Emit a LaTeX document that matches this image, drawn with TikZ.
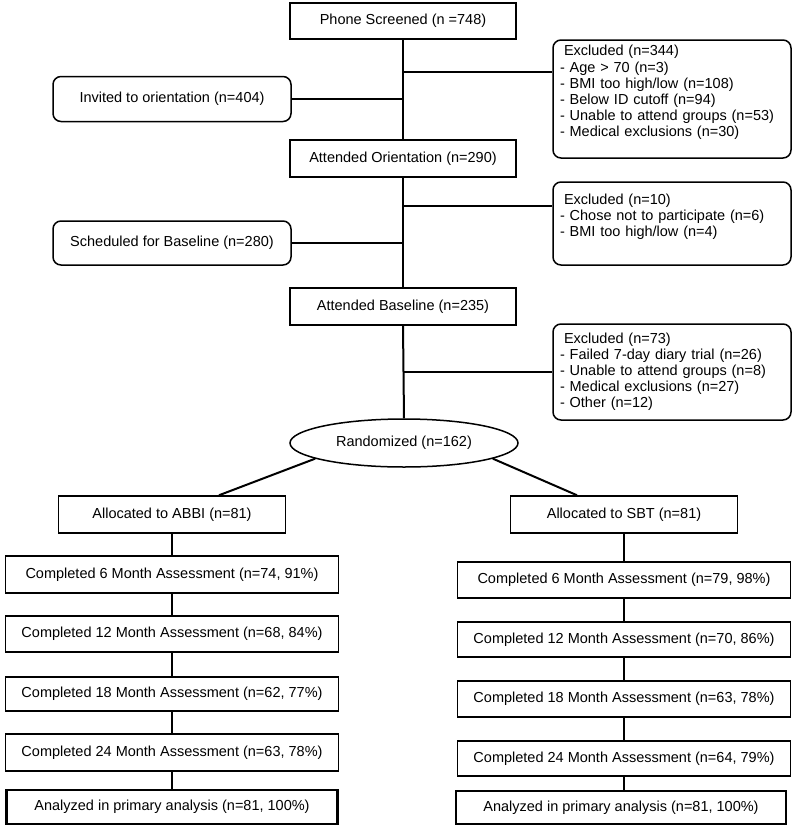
\documentclass[tikz,border=0pt]{standalone}
\usepackage{fontspec}
\setmainfont{Liberation Sans}
\usetikzlibrary{shapes.geometric}

\tikzset{
  caja/.style={draw, line width=1.5pt, inner sep=0pt, minimum height=37pt},
  cajared/.style={caja, rounded corners=8pt},
  excl/.style={cajared, text width=224pt, align=left, inner xsep=7pt, minimum width=238pt},
  final/.style={caja, line width=2.6pt},
  linea/.style={line width=2pt}
}

\begin{document}
\begin{tikzpicture}[x=1pt, y=-1pt, font=\fontsize{14.5}{16.1}\selectfont]
  \useasboundingbox (0,0) rectangle (800,828);

  % Tronco central
  \node[caja, minimum width=226pt, minimum height=36pt] (phone) at (403,21) {Phone Screened (n =748)};
  \node[caja, minimum width=226pt] (ator) at (403,158.5) {Attended Orientation (n=290)};
  \node[caja, minimum width=226pt] (abase) at (403,306.5) {Attended Baseline (n=235)};
  \node[ellipse, draw, line width=1.5pt, minimum width=228pt, minimum height=48pt, inner sep=0pt] (rnd) at (404,443) {Randomized (n=162)};

  % Cajas de la izquierda
  \node[cajared, minimum width=238pt, minimum height=45pt] (inv) at (172,99) {Invited to orientation (n=404)};
  \node[cajared, minimum width=238pt, minimum height=44pt] (sched) at (172,243) {Scheduled for Baseline (n=280)};

  % Exclusiones
  \node[excl, minimum height=118pt] (ex1) at (672,99) {\hspace*{4pt}Excluded (n=344)\\
    - Age > 70 (n=3)\\
    - BMI too high/low (n=108)\\
    - Below ID cutoff (n=94)\\
    - Unable to attend groups (n=53)\\
    - Medical exclusions (n=30)\\ \mbox{}};
  \node[excl, minimum height=83pt] (ex2) at (672,223.5) {\hspace*{4pt}Excluded (n=10)\\
    - Chose not to participate (n=6)\\
    - BMI too high/low (n=4)\\ \mbox{}};
  \node[excl, minimum height=96pt] (ex3) at (672,372) {\hspace*{4pt}Excluded (n=73)\\
    - Failed 7-day diary trial (n=26)\\
    - Unable to attend groups (n=8)\\
    - Medical exclusions (n=27)\\
    - Other (n=12)};

  % Uniones con el tronco
  \coordinate (j1) at (404,72);
  \coordinate (j2) at (404,206);
  \draw[linea] (phone.south) -- (ator.north);
  \draw[linea] (ator.south) -- (abase.north);
  \draw[linea] (abase.south) -- (rnd.north);
  \draw[linea] (j1) -- (j1 -| ex1.west);
  \draw[linea] (j2) -- (j2 -| ex2.west);
  \draw[linea] (ex3.west -| abase.south) -- (ex3.west);
  \draw[linea] (inv.east) -- (inv.east -| phone.south);
  \draw[linea] (sched.east) -- (sched.east -| ator.south);

  % Grupos
  \node[caja, minimum width=227pt] (abbi) at (172,514.5) {Allocated to ABBI (n=81)};
  \node[caja, minimum width=227pt] (sbt) at (624,514.5) {Allocated to SBT (n=81)};
  \draw[linea] (rnd.190) -- ([xshift=47pt]abbi.north);
  \draw[linea] (rnd.-10) -- ([xshift=-47pt]sbt.north);

  % Columna izquierda (ABBI)
  \foreach \n/\y/\h/\t in {1/574.5/37/{Completed 6 Month Assessment (n=74, 91\%)},
                           2/634/36/{Completed 12 Month Assessment (n=68, 84\%)},
                           3/694/34/{Completed 18 Month Assessment (n=62, 77\%)},
                           4/752.5/37/{Completed 24 Month Assessment (n=63, 78\%)}} {
    \node[caja, minimum width=333pt, minimum height=\h pt] (l\n) at (172,\y) {\t};
  }
  \node[final, minimum width=331pt, minimum height=34pt] (l5) at (172,807) {Analyzed in primary analysis (n=81, 100\%)};

  % Columna derecha (SBT)
  \foreach \n/\y/\h/\t in {1/580/36/{Completed 6 Month Assessment (n=79, 98\%)},
                           2/639.5/35/{Completed 12 Month Assessment (n=70, 86\%)},
                           3/699/36/{Completed 18 Month Assessment (n=63, 78\%)},
                           4/758.5/35/{Completed 24 Month Assessment (n=64, 79\%)}} {
    \node[caja, minimum width=333pt, minimum height=\h pt] (r\n) at (624,\y) {\t};
  }
  \node[final, minimum width=330pt, minimum height=33pt] (r5) at (621,807.5) {Analyzed in primary analysis (n=81, 100\%)};

  % Uniones de las columnas
  \draw[linea] (abbi.south) -- (l1.north);
  \draw[linea] (sbt.south) -- (r1.north);
  \foreach \a/\b in {1/2,2/3,3/4,4/5} {
    \draw[linea] (l\a.south) -- (l\b.north);
    \draw[linea] (r\a.south) -- (r\a.south |- r\b.north);
  }

\end{tikzpicture}
\end{document}
